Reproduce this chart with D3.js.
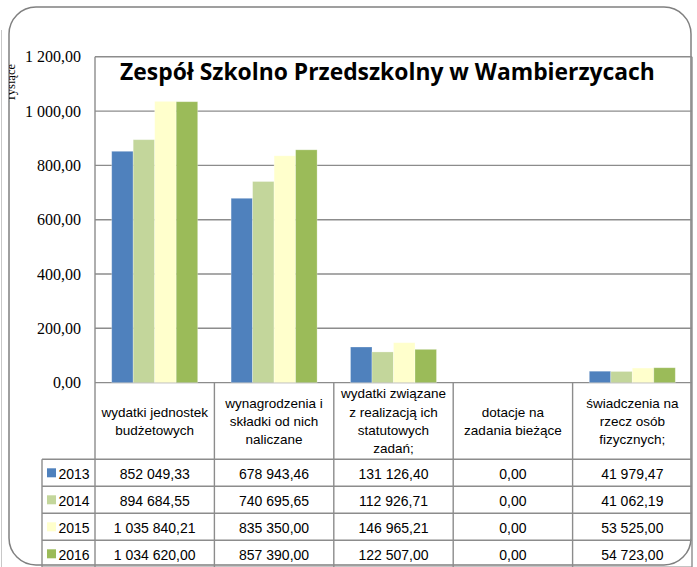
<!DOCTYPE html>
<html>
<head>
<meta charset="utf-8">
<script src="https://cdn.jsdelivr.net/npm/d3@7"></script>
<style>
  body { margin: 0; background: #fff; }
  svg { display: block; }
</style>
</head>
<body>
<svg width="697" height="567"></svg>
<script>
var title = "Zespół Szkolno Przedszkolny w Wambierzycach";
var yLabel = "Tysiące";
var categories = [
  ["wydatki jednostek", "budżetowych"],
  ["wynagrodzenia i", "składki od nich", "naliczane"],
  ["wydatki związane", "z realizacją ich", "statutowych", "zadań;"],
  ["dotacje na", "zadania bieżące"],
  ["świadczenia na", "rzecz osób", "fizycznych;"]
];
var years = ["2013", "2014", "2015", "2016"];
var colors = ["#4f81bd", "#c3d69b", "#ffffcc", "#9bbb59"];
var v2013 = [852049.33, 678943.46, 131126.40, 0, 41979.47];
var v2014 = [894684.55, 740695.65, 112926.71, 0, 41062.19];
var v2015 = [1035840.21, 835350.00, 146965.21, 0, 53525.00];
var v2016 = [1034620.00, 857390.00, 122507.00, 0, 54723.00];
var yTicks = [0, 200, 400, 600, 800, 1000, 1200];

var series = [v2013, v2014, v2015, v2016];

var svg = d3.select("svg");
var pl = d3.formatLocale({decimal: ",", thousands: "\u00a0", grouping: [3], currency: ["", ""]});
var fmt = pl.format(",.2f");

var plotL = 95, plotR = 692, plotT = 56.8, plotB = 382.6;
var headB = 459.3, rowH = 27, legL = 42;
var lineCol = "#8c8c8c";
var sans = "Liberation Sans", serif = "Liberation Serif";

// outer frame
svg.append("line").attr("x1", 1.5).attr("x2", 1.5).attr("y1", 30).attr("y2", 567)
  .attr("stroke", "#c8c8c8").attr("stroke-width", 1);
svg.append("rect").attr("x", 9).attr("y", 7).attr("width", 682).attr("height", 558)
  .attr("rx", 27).attr("fill", "none").attr("stroke", "#808080").attr("stroke-width", 1.5);

var y = d3.scaleLinear().domain([0, 1200]).range([plotB, plotT]);
var x0 = d3.scaleBand().domain(d3.range(categories.length)).range([plotL, plotR]);
var x1 = d3.scaleBand().domain(years).range([16.7, x0.bandwidth() - 16.7]);

// gridlines
svg.append("g").selectAll("line").data(yTicks).enter().append("line")
  .attr("x1", plotL).attr("x2", plotR)
  .attr("y1", d => y(d)).attr("y2", d => y(d))
  .attr("stroke", lineCol).attr("stroke-width", 1.4);

// y labels
svg.append("g").selectAll("text").data(yTicks).enter().append("text")
  .attr("x", 81).attr("y", d => y(d)).attr("dy", "0.35em")
  .attr("text-anchor", "end")
  .attr("font-family", serif).attr("font-size", 16)
  .attr("fill", "#000")
  .text(d => fmt(d));

// axis title, cut by the frame like in the source
svg.append("clipPath").attr("id", "lbl").append("rect").attr("x", 9).attr("y", 30).attr("width", 12).attr("height", 100);
svg.append("g").attr("clip-path", "url(#lbl)")
  .append("text")
  .attr("transform", "translate(15,83) rotate(-90)")
  .attr("text-anchor", "middle")
  .attr("font-family", serif).attr("font-size", 12.5)
  .text(yLabel);

// bars
var groups = svg.append("g").selectAll("g").data(categories).enter().append("g")
  .attr("transform", (d, i) => "translate(" + x0(i) + ",0)");
groups.selectAll("rect").data((d, i) => series.map((s, j) => ({year: years[j], v: s[i] / 1000, c: colors[j]})))
  .enter().append("rect")
  .attr("x", d => x1(d.year)).attr("width", x1.bandwidth())
  .attr("y", d => y(d.v)).attr("height", d => plotB - y(d.v))
  .attr("fill", d => d.c)
  .attr("stroke", "#ffffff").attr("stroke-opacity", 0.35).attr("stroke-width", 0.8);

// title
var t = svg.append("text")
  .attr("x", 387.5).attr("y", 80)
  .attr("text-anchor", "middle")
  .attr("font-family", "Open Sans").attr("font-weight", "bold").attr("font-size", 21)
  .attr("fill", "#000")
  .text(title);
var tw = t.node().getComputedTextLength();
t.attr("font-size", 21 * 535 / tw);

// table grid
var tableB = headB + rowH * years.length;
var grid = svg.append("g").attr("stroke", lineCol).attr("stroke-width", 1.4);
grid.append("line").attr("x1", plotL).attr("x2", plotL).attr("y1", plotT).attr("y2", tableB);
grid.append("line").attr("x1", plotR).attr("x2", plotR).attr("y1", plotT).attr("y2", tableB);
grid.selectAll(".v").data(d3.range(1, categories.length)).enter().append("line")
  .attr("x1", i => x0(i)).attr("x2", i => x0(i)).attr("y1", plotB).attr("y2", tableB);
grid.append("line").attr("x1", legL).attr("x2", legL).attr("y1", headB).attr("y2", tableB);
grid.selectAll(".h").data(d3.range(years.length + 1)).enter().append("line")
  .attr("x1", legL).attr("x2", plotR)
  .attr("y1", i => headB + i * rowH).attr("y2", i => headB + i * rowH);

// header labels
var headMid = (plotB + headB) / 2;
svg.append("g").selectAll("text").data(categories).enter().append("text")
  .attr("text-anchor", "middle")
  .attr("font-family", sans).attr("font-size", 13.5)
  .attr("fill", "#000")
  .each(function (lines, i) {
    var el = d3.select(this);
    var start = headMid - (lines.length - 1) * 18.3 / 2;
    lines.forEach((ln, k) => {
      el.append("tspan").attr("x", x0(i) + x0.bandwidth() / 2)
        .attr("y", start + k * 18.3).attr("dy", "0.36em").text(ln);
    });
  });

// rows
var rows = svg.append("g").selectAll("g").data(series).enter().append("g")
  .attr("transform", (d, j) => "translate(0," + (headB + j * rowH) + ")");
rows.append("rect").attr("x", 47).attr("y", rowH / 2 - 4.5).attr("width", 9).attr("height", 9)
  .attr("fill", (d, j) => colors[j]);
rows.append("text").attr("x", 58.5).attr("y", rowH / 2 + 1).attr("dy", "0.36em")
  .attr("font-family", sans).attr("font-size", 14)
  .text((d, j) => years[j]);
rows.selectAll(".val").data(d => d).enter().append("text")
  .attr("x", (d, i) => x0(i) + x0.bandwidth() / 2).attr("y", rowH / 2 + 1).attr("dy", "0.36em")
  .attr("text-anchor", "middle")
  .attr("font-family", sans).attr("font-size", 14)
  .text(d => fmt(d));
</script>
</body>
</html>
